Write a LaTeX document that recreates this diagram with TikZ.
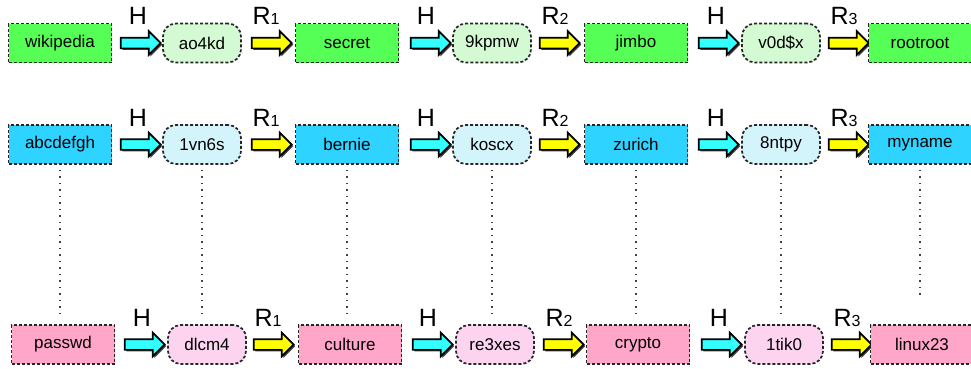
\documentclass[tikz,border=0pt]{standalone}
\usepackage{fontspec}
\setmainfont{Liberation Sans}
\usetikzlibrary{shapes.arrows,shadows}
\definecolor{gbox}{HTML}{55FF55}
\definecolor{gbub}{HTML}{D4FAD4}
\definecolor{bbox}{HTML}{2FD3FF}
\definecolor{bbub}{HTML}{D4F4FC}
\definecolor{pbox}{HTML}{FFA6C9}
\definecolor{pbub}{HTML}{FCD4F0}
\definecolor{harr}{HTML}{33FFFF}
\definecolor{rarr}{HTML}{FFFF00}
\tikzset{
  base/.style={draw=black!85, line width=1.7pt, dash pattern=on 3pt off 2pt,
    font=\fontsize{17}{17}\selectfont, inner sep=0pt},
  pwbox/.style={base, rectangle, minimum width=103pt, minimum height=39pt},
  hashbub/.style={base, rectangle, rounded corners=13pt, minimum width=78pt, minimum height=39pt},
  blockarrow/.style={shape=single arrow, draw=black, line width=1.7pt,
    inner xsep=0pt, inner ysep=4.5pt,
    minimum height=40pt, minimum width=23pt, single arrow head extend=6.5pt,
    single arrow head indent=0pt, single arrow tip angle=90,
    drop shadow={shadow xshift=1.6pt, shadow yshift=-1.6pt, fill=black!75, opacity=1}},
  harrow/.style={blockarrow, fill=harr},
  rarrow/.style={blockarrow, fill=rarr},
  lab/.style={font=\fontsize{25}{25}\selectfont, inner sep=0pt},
  chainlink/.style={draw=black!75, line width=1.4pt, dash pattern=on 1.5pt off 5pt}
}
\newcommand{\rlab}[1]{R{\fontsize{16}{16}\selectfont #1}}
\begin{document}
\begin{tikzpicture}[x=1pt,y=-1pt]
\useasboundingbox (0,0) rectangle (971,368);
% Row 1
\node[pwbox, fill=gbox] (a1) at (60,43) {wikipedia};
\node[harrow] (a2) at (138,43) {};
\node[hashbub, fill=gbub] (a3) at (202,43) {ao4kd};
\node[rarrow] (a4) at (269,43) {};
\node[pwbox, fill=gbox] (a5) at (347,43) {secret};
\node[harrow] (a6) at (428,43) {};
\node[hashbub, fill=gbub] (a7) at (492,43) {9kpmw};
\node[rarrow] (a8) at (557,43) {};
\node[pwbox, fill=gbox] (a9) at (636,43) {jimbo};
\node[harrow] (a10) at (716,43) {};
\node[hashbub, fill=gbub] (a11) at (781,43) {v0d\$x};
\node[rarrow] (a12) at (846,43) {};
\node[pwbox, fill=gbox] (a13) at (920,43) {rootroot};
\node[lab] (la2) at (138,16) {H};
\node[lab] (la4) at (266,16) {\rlab{1}};
\node[lab] (la6) at (426,16) {H};
\node[lab] (la8) at (555,16) {\rlab{2}};
\node[lab] (la10) at (716,16) {H};
\node[lab] (la12) at (844,16) {\rlab{3}};
% Row 2
\node[pwbox, fill=bbox] (b1) at (60,144.5) {abcdefgh};
\node[harrow] (b2) at (138,144.5) {};
\node[hashbub, fill=bbub] (b3) at (202,144.5) {1vn6s};
\node[rarrow] (b4) at (269,144.5) {};
\node[pwbox, fill=bbox] (b5) at (347,144.5) {bernie};
\node[harrow] (b6) at (428,144.5) {};
\node[hashbub, fill=bbub] (b7) at (492,144.5) {koscx};
\node[rarrow] (b8) at (557,144.5) {};
\node[pwbox, fill=bbox] (b9) at (636,144.5) {zurich};
\node[harrow] (b10) at (716,144.5) {};
\node[hashbub, fill=bbub] (b11) at (781,144.5) {8ntpy};
\node[rarrow] (b12) at (846,144.5) {};
\node[pwbox, fill=bbox] (b13) at (920,144.5) {myname};
\node[lab] (lb2) at (138,118) {H};
\node[lab] (lb4) at (266,118) {\rlab{1}};
\node[lab] (lb6) at (426,118) {H};
\node[lab] (lb8) at (555,118) {\rlab{2}};
\node[lab] (lb10) at (716,118) {H};
\node[lab] (lb12) at (844,118) {\rlab{3}};
% Row 3
\node[pwbox, fill=pbox] (c1) at (63,344.5) {passwd};
\node[harrow] (c2) at (142,344.5) {};
\node[hashbub, fill=pbub] (c3) at (207,344.5) {dlcm4};
\node[rarrow] (c4) at (271,344.5) {};
\node[pwbox, fill=pbox] (c5) at (350,344.5) {culture};
\node[harrow] (c6) at (430,344.5) {};
\node[hashbub, fill=pbub] (c7) at (495,344.5) {re3xes};
\node[rarrow] (c8) at (561,344.5) {};
\node[pwbox, fill=pbox] (c9) at (638,344.5) {crypto};
\node[harrow] (c10) at (719,344.5) {};
\node[hashbub, fill=pbub] (c11) at (784,344.5) {1tik0};
\node[rarrow] (c12) at (849,344.5) {};
\node[pwbox, fill=pbox] (c13) at (922,344.5) {linux23};
\node[lab] (lc2) at (142,318) {H};
\node[lab] (lc4) at (268,318) {\rlab{1}};
\node[lab] (lc6) at (428,318) {H};
\node[lab] (lc8) at (559,318) {\rlab{2}};
\node[lab] (lc10) at (719,318) {H};
\node[lab] (lc12) at (847,318) {\rlab{3}};
% dotted links
\foreach \i in {1,3,5,7,9,11}{
  \draw[chainlink, shorten <=5pt, shorten >=8pt] (b\i.south) -- (b\i.south |- c\i.north);
}
\draw[chainlink, shorten <=5pt, shorten >=28pt] (b13.south) -- (b13.south |- c13.north);
\end{tikzpicture}
\end{document}
